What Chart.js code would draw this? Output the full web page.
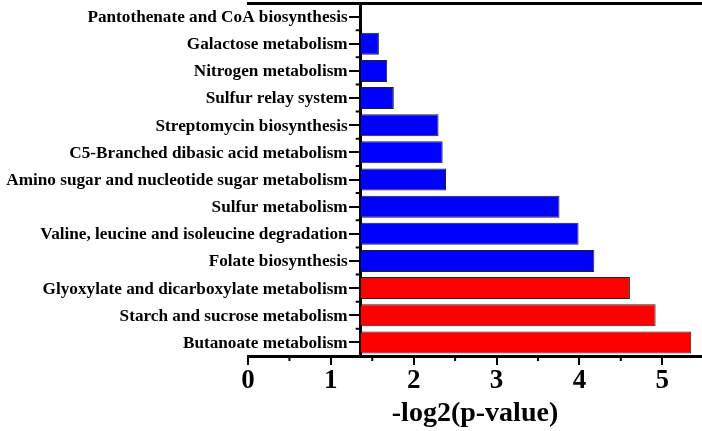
<!DOCTYPE html>
<html>
<head>
<meta charset="utf-8">
<script src="https://cdn.jsdelivr.net/npm/chart.js@4.4.0/dist/chart.umd.min.js"></script>
<style>
  html, body { margin: 0; padding: 0; background: #fff; }
  #wrap { width: 702px; height: 431px; }
</style>
</head>
<body>
<div id="wrap"><canvas id="pathwayChart"></canvas></div>
<script>
  // pathways, top to bottom
  var pathways = [
    "Pantothenate and CoA biosynthesis",
    "Galactose metabolism",
    "Nitrogen metabolism",
    "Sulfur relay system",
    "Streptomycin biosynthesis",
    "C5-Branched dibasic acid metabolism",
    "Amino sugar and nucleotide sugar metabolism",
    "Sulfur metabolism",
    "Valine, leucine and isoleucine degradation",
    "Folate biosynthesis",
    "Glyoxylate and dicarboxylate metabolism",
    "Starch and sucrose metabolism",
    "Butanoate metabolism"
  ];
  var pValues = [1.37, 1.58, 1.68, 1.76, 2.30, 2.35, 2.39, 3.76, 3.99, 4.18, 4.61, 4.92, 5.35];
  var barColors = [
    "#0000ff", "#0000ff", "#0000ff", "#0000ff", "#0000ff",
    "#0000ff", "#0000ff", "#0000ff", "#0000ff", "#0000ff",
    "#ff0000", "#ff0000", "#ff0000"
  ];
  var xTicks = [0, 1, 2, 3, 4, 5];
  var xMinorTicks = [0.5, 1.5, 2.5, 3.5, 4.5];
  var axisCross = 1.36; // where the y axis sits on the x scale
  var xMax = 5.48;

  var serif = "'Liberation Serif', 'Times New Roman', serif";
  var yTickLength = 10;

  // minor ticks + the pathway names left of the y axis
  // (chart.js puts labels of a value-positioned axis right on top of the ticks)
  var axisExtras = {
    id: "axisExtras",
    afterDraw: function (chart) {
      var ctx = chart.ctx;
      var xs = chart.scales.x;
      var ys = chart.scales.y;
      var axisPx = xs.getPixelForValue(axisCross);
      ctx.save();
      ctx.strokeStyle = "#000";
      ctx.lineWidth = 2;
      ctx.beginPath();
      xMinorTicks.forEach(function (v) {
        var px = xs.getPixelForValue(v);
        ctx.moveTo(px, xs.top);
        ctx.lineTo(px, xs.top + 5);
      });
      for (var i = 0; i <= pathways.length; i++) {
        var py = ys.getPixelForValue(i - 0.5);
        ctx.moveTo(axisPx, py);
        ctx.lineTo(axisPx - 5, py);
      }
      ctx.stroke();

      ctx.fillStyle = "#000";
      ctx.font = "bold 17.2px " + serif;
      ctx.textAlign = "right";
      ctx.textBaseline = "middle";
      pathways.forEach(function (name, i) {
        ctx.fillText(name, axisPx - yTickLength - 3, ys.getPixelForValue(i) + 1);
      });
      ctx.restore();
    }
  };

  var ctx = document.getElementById("pathwayChart").getContext("2d");
  var chart = new Chart(ctx, {
    type: "bar",
    data: {
      labels: pathways,
      datasets: [
        {
          data: pValues,
          base: axisCross,
          backgroundColor: barColors,
          borderColor: "#222",
          borderWidth: 1,
          barPercentage: 0.81,
          categoryPercentage: 1
        }
      ]
    },
    options: {
      indexAxis: "y",
      responsive: true,
      maintainAspectRatio: false,
      animation: false,
      layout: { padding: { left: 248, right: 0, top: 3, bottom: 0 } },
      plugins: { legend: { display: false }, tooltip: { enabled: false } },
      scales: {
        x: {
          min: 0,
          max: xMax,
          afterBuildTicks: function (scale) {
            scale.ticks = xTicks.map(function (v) { return { value: v }; });
          },
          grid: { drawOnChartArea: false, color: "#000", lineWidth: 2, tickLength: 9 },
          border: { color: "#000", width: 3 },
          ticks: {
            color: "#000",
            padding: 0,
            maxRotation: 0,
            font: { family: serif, size: 27, weight: "bold" }
          },
          title: {
            display: true,
            text: "-log2(p-value)",
            color: "#000",
            padding: 0,
            font: { family: serif, size: 28, weight: "bold" }
          }
        },
        x2: {
          position: "top",
          min: 0,
          max: xMax,
          grid: { display: false, drawTicks: false },
          ticks: { display: false },
          border: { color: "#000", width: 3 }
        },
        y: {
          position: { x: axisCross },
          grid: { drawOnChartArea: false, offset: false, color: "#000", lineWidth: 2, tickLength: yTickLength },
          border: { color: "#000", width: 3 },
          ticks: { display: false }
        }
      }
    },
    plugins: [axisExtras]
  });
</script>
</body>
</html>
